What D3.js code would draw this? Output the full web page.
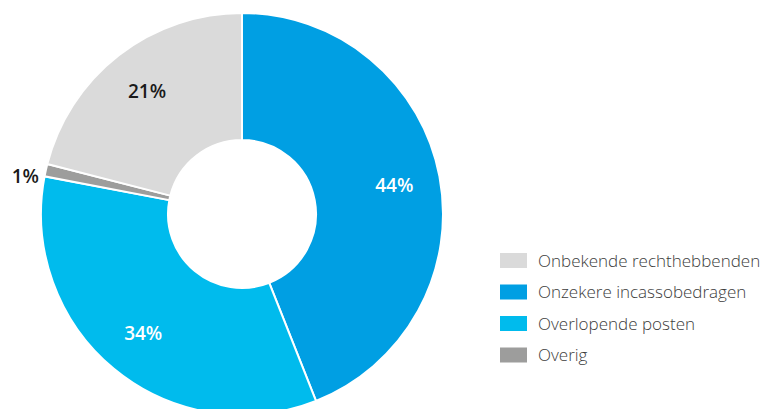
<!DOCTYPE html>
<html>
<head>
<meta charset="utf-8">
<script src="https://cdn.jsdelivr.net/npm/d3@7"></script>
<style>
  body { margin: 0; background: #fff; }
  text { font-family: "Open Sans", sans-serif; }
</style>
</head>
<body>
<div id="chart"></div>
<script>
var width = 768,
  height = 409;

// slices in drawing order, clockwise from 12 o'clock
var categories = ["Onzekere incassobedragen", "Overlopende posten", "Overig", "Onbekende rechthebbenden"];
var values = [44, 34, 1, 21];
var colors = ["#009fe3", "#00bbed", "#9d9d9c", "#dadada"];
var labelColors = ["#fff", "#fff", "#1a1a1a", "#1a1a1a"];

// legend order as shown
var legendItems = ["Onbekende rechthebbenden", "Onzekere incassobedragen", "Overlopende posten", "Overig"];

var cx = 242, cy = 214,
  outerR = 201, innerR = 74;

var color = d3.scaleOrdinal().domain(categories).range(colors);
var labelColor = d3.scaleOrdinal().domain(categories).range(labelColors);

var svg = d3.select("#chart").append("svg")
  .attr("width", width)
  .attr("height", height);

var pie = d3.pie().sort(null).value(function(d) { return d.value; });
var data = pie(categories.map(function(c, i) { return { name: c, value: values[i] }; }));

var arc = d3.arc().innerRadius(innerR).outerRadius(outerR);
var labelArc = d3.arc().innerRadius(155).outerRadius(155);
var outsideArc = d3.arc().innerRadius(208).outerRadius(208);

var g = svg.append("g").attr("transform", "translate(" + cx + "," + cy + ")");

g.selectAll("path.slice")
  .data(data)
  .enter().append("path")
  .attr("class", "slice")
  .attr("d", arc)
  .attr("fill", function(d) { return color(d.data.name); })
  .attr("stroke", "#fff")
  .attr("stroke-width", 2);

g.selectAll("text.pct")
  .data(data)
  .enter().append("text")
  .attr("class", "pct")
  .attr("transform", function(d) {
    var small = d.data.value < 5;
    var p = small ? outsideArc.centroid(d) : labelArc.centroid(d);
    if (small) p[1] += 8;
    return "translate(" + p + ")";
  })
  .attr("text-anchor", function(d) { return d.data.value < 5 ? "end" : "middle"; })
  .attr("dy", "0.36em")
  .attr("font-size", 19)
  .attr("font-weight", 600)
  .attr("fill", function(d) { return labelColor(d.data.name); })
  .text(function(d) { return d.data.value + "%"; });

var legend = svg.append("g").attr("transform", "translate(500,253)");

var row = d3.scaleBand().domain(legendItems).range([0, 126]);

var item = legend.selectAll("g")
  .data(legendItems)
  .enter().append("g")
  .attr("transform", function(d) { return "translate(0," + row(d) + ")"; });

item.append("rect")
  .attr("width", 27)
  .attr("height", 15)
  .attr("fill", function(d) { return color(d); });

item.append("text")
  .attr("x", 38)
  .attr("y", 8)
  .attr("dy", "0.35em")
  .attr("font-size", 17)
  .attr("font-weight", 300)
  .attr("fill", "#3c3c3c")
  .text(function(d) { return d; });
</script>
</body>
</html>
